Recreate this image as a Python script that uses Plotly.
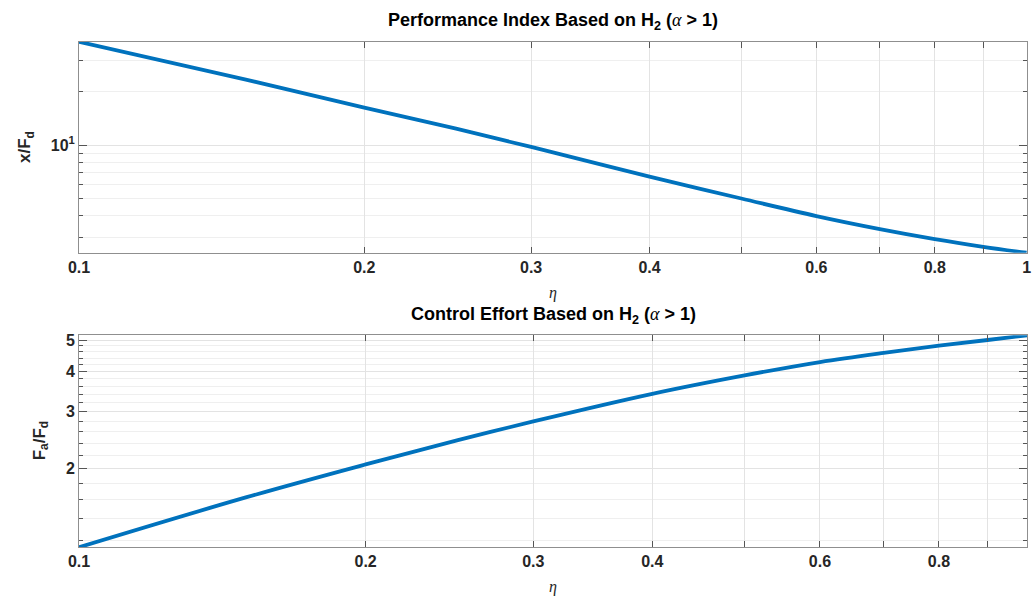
import numpy as np
import plotly.graph_objects as go

# --- data -------------------------------------------------------------
eta_top = [0.1, 0.15, 0.2, 0.25, 0.3, 0.35, 0.4, 0.5, 0.6, 0.7, 0.8, 0.9, 1.0]
x_over_fd = [38.4, 23.5, 16.3, 12.4, 9.78, 7.95, 6.65, 5.0, 3.98, 3.36, 2.95, 2.67, 2.47]

eta_bot = [0.1, 0.15, 0.2, 0.25, 0.3, 0.4, 0.5, 0.6, 0.7, 0.8, 0.9, 0.99]
fa_over_fd = [1.14, 1.63, 2.06, 2.45, 2.80, 3.41, 3.89, 4.28, 4.57, 4.81, 5.01, 5.18]

x_ticks_top = [0.1, 0.2, 0.3, 0.4, 0.5, 0.6, 0.7, 0.8, 0.9, 1.0]
x_labels_top = ["0.1", "0.2", "0.3", "0.4", "", "0.6", "", "0.8", "", "1"]
x_ticks_bot = [0.1, 0.2, 0.3, 0.4, 0.5, 0.6, 0.7, 0.8, 0.9]
x_labels_bot = ["0.1", "0.2", "0.3", "0.4", "", "0.6", "", "0.8", ""]

y_ticks_top = [10]
y_labels_top = ["10<sup>1</sup>"]
y_minor_top = [3, 4, 5, 6, 7, 8, 9, 20, 30]

y_ticks_bot = [2, 3, 4, 5]
y_labels_bot = ["2", "3", "4", "5"]
y_minor_bot = [1.2, 1.4, 1.6, 1.8, 2.2, 2.4, 2.6, 2.8, 3.2, 3.4, 3.6, 3.8,
               4.2, 4.4, 4.6, 4.8]

# --- styling ----------------------------------------------------------
W, H = 1035, 599
LINE_BLUE = "#0072BD"
FRAME = "#8f8f8f"
GRID = "#e3e3e3"
MINOR_GRID = "#efefef"
TXT = "#262626"
FONT = "Liberation Sans"


def px_x(p):
    return p / W


def px_y(p):
    return 1 - p / H


x_dom = [px_x(69), px_x(1031)]
top_dom = [px_y(251), px_y(39)]
bot_dom = [px_y(547), px_y(334)]

fig = go.Figure()
fig.add_trace(go.Scatter(x=eta_top, y=x_over_fd, mode="lines", line_shape="spline",
                         line=dict(color=LINE_BLUE, width=3.8),
                         xaxis="x", yaxis="y", showlegend=False))
fig.add_trace(go.Scatter(x=eta_bot, y=fa_over_fd, mode="lines", line_shape="spline",
                         line=dict(color=LINE_BLUE, width=3.8),
                         xaxis="x2", yaxis="y2", showlegend=False))

axis_common = dict(
    type="log", showline=True, linecolor=FRAME, linewidth=1, mirror="allticks",
    ticks="inside", tickcolor="#555555", tickwidth=1,
    showgrid=True, gridcolor=GRID, gridwidth=1, zeroline=False,
    ticklabeloverflow="allow",
    tickfont=dict(family=FONT, size=16, color=TXT, weight="bold"),
)

fig.update_layout(
    width=W, height=H,
    margin=dict(l=0, r=0, t=0, b=0),
    paper_bgcolor="white", plot_bgcolor="white",
    xaxis=dict(axis_common, domain=x_dom, anchor="y",
               range=[np.log10(0.1), np.log10(1.0) + 0.0005],
               tickmode="array", tickvals=x_ticks_top, ticktext=x_labels_top,
               ticklen=6),
    yaxis=dict(axis_common, domain=top_dom, anchor="x",
               range=[np.log10(2.47), np.log10(38.4)],
               tickmode="array", tickvals=y_ticks_top, ticktext=y_labels_top,
               ticklen=8,
               minor=dict(tickmode="array", tickvals=y_minor_top, ticks="inside",
                          ticklen=4, tickcolor="#555555", showgrid=True,
                          gridcolor=MINOR_GRID)),
    xaxis2=dict(axis_common, domain=x_dom, anchor="y2",
                range=[np.log10(0.1), np.log10(0.99)],
                tickmode="array", tickvals=x_ticks_bot, ticktext=x_labels_bot,
                ticklen=6),
    yaxis2=dict(axis_common, domain=bot_dom, anchor="x2",
                range=[np.log10(1.14), np.log10(5.18)],
                tickmode="array", tickvals=y_ticks_bot, ticktext=y_labels_bot,
                ticklen=8,
                minor=dict(tickmode="array", tickvals=y_minor_bot, ticks="inside",
                           ticklen=4, tickcolor="#555555", showgrid=True,
                           gridcolor=MINOR_GRID)),
)

alpha = "<span style='font-family:Liberation Serif;font-weight:normal;font-style:italic'>α</span>"
title_font = dict(family=FONT, size=18, color="black", weight="bold")
label_font = dict(family=FONT, size=17, color=TXT, weight="bold")
eta_font = dict(family="Liberation Serif", size=16, color=TXT)

annotations = [
    dict(text=f"Performance Index Based on H<sub>2</sub> ({alpha} > 1)",
         x=px_x(550), y=px_y(19), font=title_font),
    dict(text=f"Control Effort Based on H<sub>2</sub> ({alpha} > 1)",
         x=px_x(550), y=px_y(314), font=title_font),
    dict(text="<i>η</i>", x=px_x(550), y=px_y(291), font=eta_font),
    dict(text="<i>η</i>", x=px_x(550), y=px_y(587), font=eta_font),
    dict(text="x/F<sub>d</sub>", x=px_x(16), y=px_y(145), textangle=-90, font=label_font),
    dict(text="F<sub>a</sub>/F<sub>d</sub>", x=px_x(30), y=px_y(440), textangle=-90,
         font=label_font),
]
for a in annotations:
    a.update(xref="paper", yref="paper", showarrow=False,
             xanchor="center", yanchor="middle")
fig.update_layout(annotations=annotations)

fig.write_html("out.html")
